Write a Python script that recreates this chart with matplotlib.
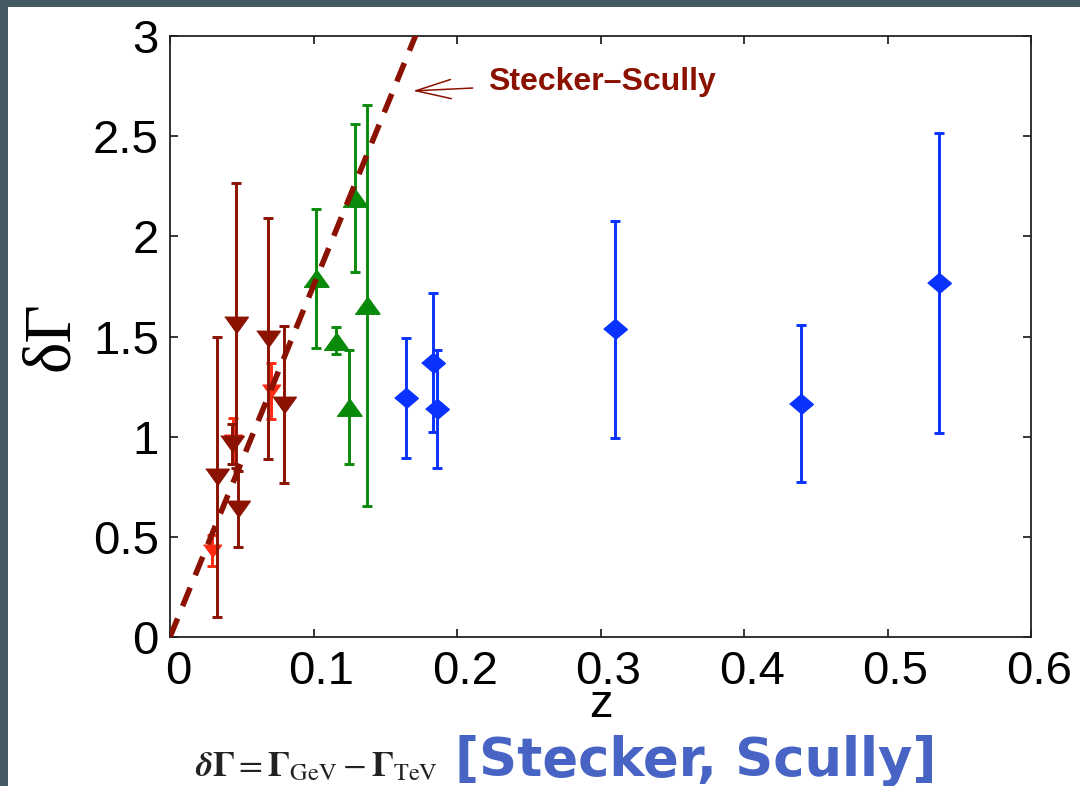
import matplotlib
matplotlib.use('Agg')
import matplotlib.pyplot as plt
import matplotlib.transforms as mtransforms
from matplotlib.patches import Rectangle

# ---------------- data ----------------
dark_red_z = [0.0325, 0.0458, 0.0435, 0.0475, 0.0685, 0.0797]
dark_red_dg = [0.80, 1.555, 0.965, 0.64, 1.49, 1.16]
dark_red_err = [0.70, 0.71, 0.10, 0.19, 0.60, 0.39]

bright_red_z = [0.029, 0.0437, 0.0705]
bright_red_dg = [0.43, 0.98, 1.228]
bright_red_err = [0.078, 0.115, 0.14]

green_z = [0.1017, 0.116, 0.1247, 0.129, 0.137]
green_dg = [1.79, 1.48, 1.15, 2.19, 1.655]
green_err = [0.345, 0.065, 0.285, 0.37, 1.0]

blue_z = [0.1645, 0.1835, 0.186, 0.310, 0.440, 0.536]
blue_dg = [1.195, 1.37, 1.14, 1.535, 1.165, 1.766]
blue_err = [0.30, 0.345, 0.295, 0.54, 0.39, 0.75]

line_z = [0.0, 0.175]
line_dg = [0.0, 3.07]

x_ticks = [0, 0.1, 0.2, 0.3, 0.4, 0.5, 0.6]
x_tick_labels = ['0', '0.1', '0.2', '0.3', '0.4', '0.5', '0.6']
y_ticks = [0, 0.5, 1, 1.5, 2, 2.5, 3]
y_tick_labels = ['0', '0.5', '1', '1.5', '2', '2.5', '3']

annot_label = 'Stecker\u2013Scully'
annot_tip = (0.1693, 2.726)
annot_text_pos = (0.2216, 2.771)

# ---------------- style ----------------
DARKRED = '#8b1200'
BRIGHTRED = '#ff2a10'
GREEN = '#0a8a0a'
BLUE = '#0a32ff'
BORDER = '#465a63'

W, H = 1080, 786
fig = plt.figure(figsize=(W / 100, H / 100), dpi=100, facecolor=BORDER)
fig.patches.append(Rectangle((8 / W, 0), 1, (H - 7) / H, transform=fig.transFigure,
                             facecolor='white', edgecolor='none', zorder=-1))

ax = fig.add_axes([170 / W, 1 - 637 / H, 861 / W, 601 / H])

down_tri = [(-1, 0.7), (1, 0.7), (0, -0.7)]
up_tri = [(-1, -0.7), (1, -0.7), (0, 0.7)]
diamond = [(-1, 0), (0, 0.85), (1, 0), (0, -0.85)]

eb_kw = dict(fmt='none', elinewidth=2.1, capsize=3.4, capthick=2.1)

ax.errorbar(bright_red_z, bright_red_dg, yerr=bright_red_err, ecolor=BRIGHTRED, zorder=2.0, **eb_kw)
ax.plot(bright_red_z, bright_red_dg, linestyle='none', marker=down_tri, ms=13,
        color=BRIGHTRED, zorder=2.05)

ax.errorbar(dark_red_z, dark_red_dg, yerr=dark_red_err, ecolor=DARKRED, zorder=2.1, **eb_kw)
ax.plot(dark_red_z, dark_red_dg, linestyle='none', marker=down_tri, ms=17,
        color=DARKRED, zorder=2.15)

ax.errorbar(green_z, green_dg, yerr=green_err, ecolor=GREEN, zorder=2.2, **eb_kw)
ax.plot(green_z, green_dg, linestyle='none', marker=up_tri, ms=18,
        color=GREEN, zorder=2.25)

ax.errorbar(blue_z, blue_dg, yerr=blue_err, ecolor=BLUE, zorder=2.3, **eb_kw)
ax.plot(blue_z, blue_dg, linestyle='none', marker=diamond, ms=17,
        color=BLUE, zorder=2.35)

ax.plot(line_z, line_dg, color=DARKRED, lw=4.0, dashes=(3.6, 2.4),
        dash_capstyle='butt', zorder=5)

ax.annotate(annot_label, xy=annot_tip, xytext=annot_text_pos,
            fontsize=23, fontweight='bold', color=DARKRED, family='Liberation Sans',
            ha='left', va='center',
            arrowprops=dict(arrowstyle='->,head_length=1.1,head_width=0.3',
                            color=DARKRED, lw=1.1, shrinkA=9, shrinkB=0))

ax.set_xlim(0, 0.6)
ax.set_ylim(0, 3)
ax.set_xticks(x_ticks)
ax.set_xticklabels(x_tick_labels)
ax.set_yticks(y_ticks)
ax.set_yticklabels(y_tick_labels)

ax.tick_params(axis='both', which='both', direction='in', length=6, width=1.1,
               top=True, right=True, labelsize=34, colors='black')
ax.tick_params(axis='x', pad=9)
ax.tick_params(axis='y', pad=8)
for lab in ax.get_xticklabels() + ax.get_yticklabels():
    lab.set_family('Liberation Sans')
offset = mtransforms.ScaledTranslation(8 / 100, 0, fig.dpi_scale_trans)
for lab in ax.get_xticklabels():
    lab.set_transform(lab.get_transform() + offset)

for sp in ax.spines.values():
    sp.set_linewidth(1.3)
    sp.set_color('#222222')

ax.set_xlabel('z', fontsize=34, family='Liberation Sans')
ax.xaxis.set_label_coords(0.5, -(717 - 637) / 601)
ax.xaxis.label.set_va('baseline')

ax.set_ylabel('\u03b4\u0393', fontsize=48, family='Liberation Serif')
ax.yaxis.set_label_coords((82 - 170) / 861, 0.5)

fig.text(195 / W, 1 - 776 / H,
         r'$\boldsymbol{\delta}\mathbf{\Gamma} = \mathbf{\Gamma}_{\mathrm{GeV}} - \mathbf{\Gamma}_{\mathrm{TeV}}$',
         fontsize=25, math_fontfamily='stix', ha='left', va='baseline', color='#222222')
fig.text(455 / W, 1 - 776 / H, '[Stecker, Scully]', fontsize=38, fontweight='bold',
         family='DejaVu Sans', color='#4763c4', ha='left', va='baseline')

fig.savefig('out.png', dpi=100, facecolor=fig.get_facecolor())
